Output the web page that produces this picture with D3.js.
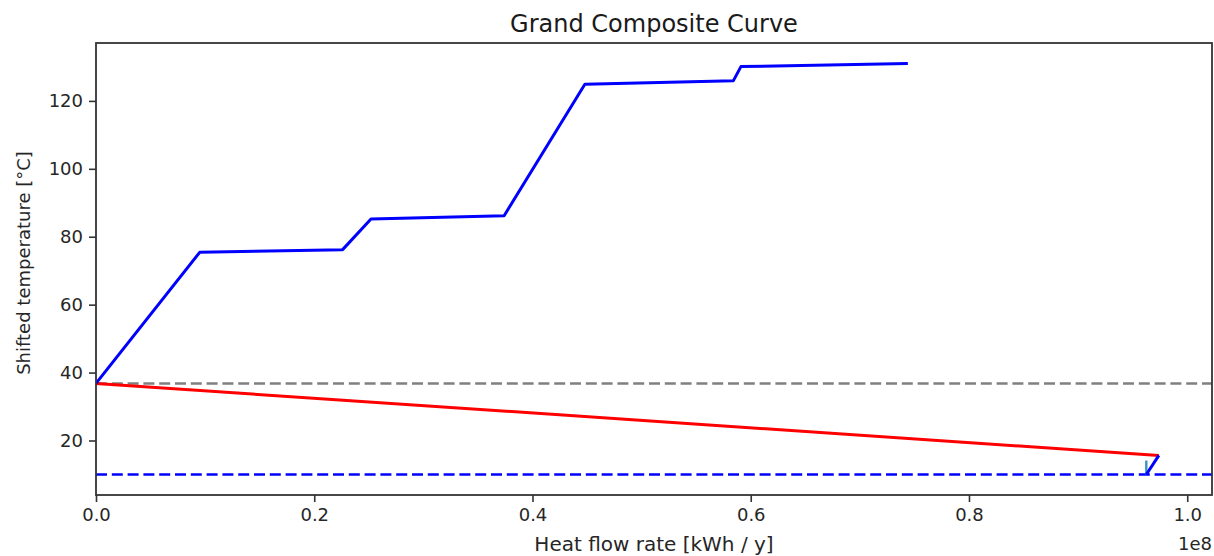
<!DOCTYPE html>
<html>
<head>
<meta charset="utf-8">
<script src="https://cdn.jsdelivr.net/npm/d3@7"></script>
<style>
  body { margin: 0; background: #fff; }
  svg { display: block; font-family: "DejaVu Sans", sans-serif; }
</style>
</head>
<body>
<svg id="chart" width="1214" height="556"></svg>
<script>
// values (heat flow in kWh/y, temperature in °C)
const hotQ = [0, 0.095e8, 0.226e8, 0.252e8, 0.374e8, 0.448e8, 0.584e8, 0.591e8, 0.744e8];
const hotT = [36.8, 75.4, 76.2, 85.2, 86.2, 124.9, 125.9, 130.1, 131.0];

const coldQ = [0, 0.974e8];
const coldT = [36.8, 15.6];

const tailQ = [0.974e8, 0.9625e8];
const tailT = [15.6, 10];

const stubQ = [0.9625e8, 0.9625e8];
const stubT = [10, 14.1];

const pinchT = 36.8;
const coldUtilT = 10;

const xTicks = [0, 0.2e8, 0.4e8, 0.6e8, 0.8e8, 1.0e8];
const yTicks = [20, 40, 60, 80, 100, 120];

const svg = d3.select("#chart");
const width = 1214, height = 556;
const margin = { top: 43, right: 2, bottom: 61, left: 96 };
const plotWidth = width - margin.left - margin.right;
const plotHeight = height - margin.top - margin.bottom;

const plotArea = svg.append("g")
  .attr("transform", `translate(${margin.left}, ${margin.top})`);

// matplotlib style 5% padding, x starts at zero
const allT = hotT.concat(coldT, tailT, stubT, [pinchT, coldUtilT]);
const tMin = d3.min(allT), tMax = d3.max(allT);
const tPad = (tMax - tMin) * 0.05;
const qMax = d3.max(hotQ.concat(coldQ, tailQ, stubQ));

const xAxis = d3.scaleLinear()
  .domain([0, qMax * 1.05])
  .range([0, plotWidth]);

const yAxis = d3.scaleLinear()
  .domain([tMin - tPad, tMax + tPad])
  .range([plotHeight, 0]);

const line = d3.line()
  .x(d => xAxis(d[0]))
  .y(d => yAxis(d[1]));

const zipPts = (q, t) => q.map((v, i) => [v, t[i]]);

plotArea.append("clipPath").attr("id", "clip")
  .append("rect").attr("width", plotWidth).attr("height", plotHeight);

const lines = plotArea.append("g").attr("clip-path", "url(#clip)");

// horizontal reference lines
lines.append("line")
  .attr("x1", 0).attr("x2", plotWidth)
  .attr("y1", yAxis(pinchT)).attr("y2", yAxis(pinchT))
  .attr("stroke", "#808080").attr("stroke-width", 2.6)
  .attr("stroke-dasharray", "11,4.8");

lines.append("line")
  .attr("x1", 0).attr("x2", plotWidth)
  .attr("y1", yAxis(coldUtilT)).attr("y2", yAxis(coldUtilT))
  .attr("stroke", "#0000ff").attr("stroke-width", 2.6)
  .attr("stroke-dasharray", "11,4.8");

// curves
lines.append("path")
  .attr("d", line(zipPts(coldQ, coldT)))
  .attr("fill", "none").attr("stroke", "#ff0000").attr("stroke-width", 3);

lines.append("path")
  .attr("d", line(zipPts(hotQ, hotT)))
  .attr("fill", "none").attr("stroke", "#0000ff").attr("stroke-width", 3)
  .attr("stroke-linejoin", "round");

lines.append("path")
  .attr("d", line(zipPts(stubQ, stubT)))
  .attr("fill", "none").attr("stroke", "#3a94c0").attr("stroke-width", 2.4);

lines.append("path")
  .attr("d", line(zipPts(tailQ, tailT)))
  .attr("fill", "none").attr("stroke", "#0000ff").attr("stroke-width", 3);

// axes
const gx = plotArea.append("g")
  .attr("transform", `translate(0, ${plotHeight})`)
  .call(d3.axisBottom(xAxis).tickValues(xTicks)
    .tickFormat(d => d3.format(".1f")(d / 1e8))
    .tickSize(7).tickPadding(6).tickSizeOuter(0));

const gy = plotArea.append("g")
  .call(d3.axisLeft(yAxis).tickValues(yTicks)
    .tickSize(7).tickPadding(6).tickSizeOuter(0));

[gx, gy].forEach(g => {
  g.select(".domain").remove();
  g.selectAll(".tick line").attr("stroke", "#333").attr("stroke-width", 1.6);
  g.selectAll(".tick text")
    .attr("fill", "#262626")
    .attr("font-size", 18)
    .attr("font-family", "DejaVu Sans, sans-serif");
});

// frame
plotArea.append("rect")
  .attr("width", plotWidth).attr("height", plotHeight)
  .attr("fill", "none").attr("stroke", "#333").attr("stroke-width", 1.8);

// offset text
svg.append("text")
  .attr("x", margin.left + plotWidth).attr("y", 550)
  .attr("text-anchor", "end")
  .attr("font-size", 18).attr("fill", "#262626")
  .text("1e8");

// title
svg.append("text")
  .attr("x", margin.left + plotWidth / 2).attr("y", 32)
  .attr("text-anchor", "middle")
  .attr("font-size", 24).attr("fill", "#1a1a1a")
  .text("Grand Composite Curve");

// X label
svg.append("text")
  .attr("x", margin.left + plotWidth / 2).attr("y", 551)
  .attr("text-anchor", "middle")
  .attr("font-size", 20).attr("fill", "#262626")
  .text("Heat flow rate [kWh / y]");

// Y label
svg.append("text")
  .attr("transform", `translate(30, ${margin.top + plotHeight / 2 - 6}) rotate(-90)`)
  .attr("text-anchor", "middle")
  .attr("font-size", 18).attr("fill", "#262626")
  .text("Shifted temperature [°C]");
</script>
</body>
</html>
